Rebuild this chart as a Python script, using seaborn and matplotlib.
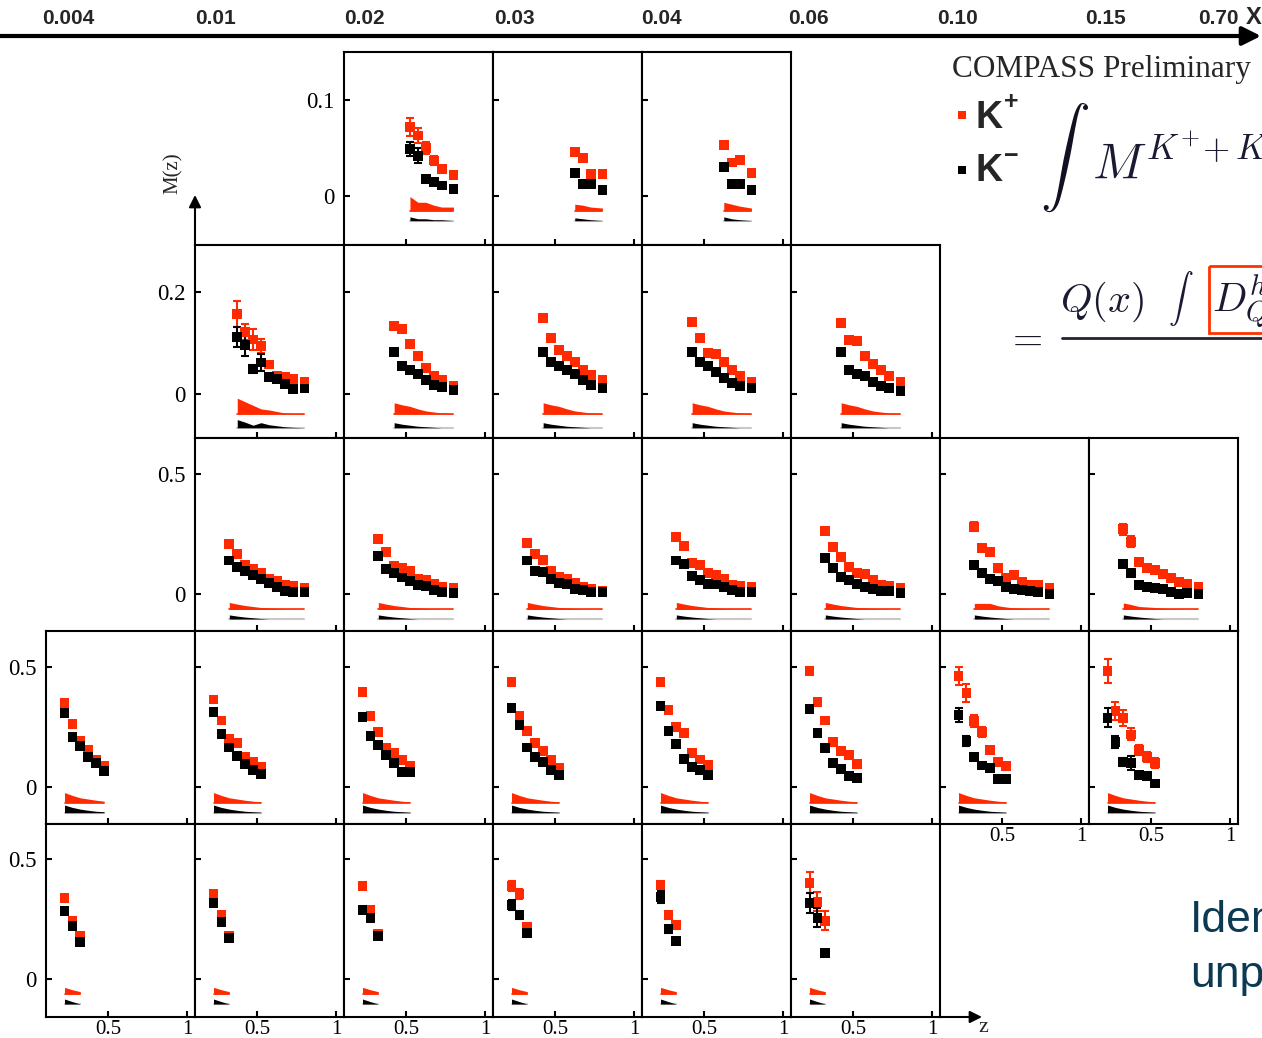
import numpy as np
import pandas as pd
import matplotlib
matplotlib.use("Agg")
import matplotlib.pyplot as plt
import seaborn as sns
from matplotlib.patches import Rectangle

sns.set_theme(style="white")
plt.rcParams['font.family'] = ['Liberation Serif', 'DejaVu Serif']
plt.rcParams['mathtext.fontset'] = 'cm'

W, H = 1262, 1038
RED = '#ff2a00'
BLACK = '#000000'

# ---------------- data ----------------
x_edges = ['0.004', '0.01', '0.02', '0.03', '0.04', '0.06', '0.10', '0.15', '0.70']

Z6A = [0.525, 0.575, 0.625, 0.675, 0.725, 0.80]
Z4 = [0.625, 0.675, 0.725, 0.80]
Z9 = [0.375, 0.425, 0.475, 0.525, 0.575, 0.625, 0.675, 0.725, 0.80]
Z8 = [0.425, 0.475, 0.525, 0.575, 0.625, 0.675, 0.725, 0.80]
Z10 = [0.325, 0.375, 0.425, 0.475, 0.525, 0.575, 0.625, 0.675, 0.725, 0.80]
Z6 = [0.225, 0.275, 0.325, 0.375, 0.425, 0.475]
Z7 = [0.225, 0.275, 0.325, 0.375, 0.425, 0.475, 0.525]
Z3 = [0.225, 0.275, 0.325]

# row 0 (columns 2,3,4)
cols_row0 = [2, 3, 4]
z_row0 = [Z6A, Z4, Z4]
kp_row0 = [[0.072, 0.063, 0.050, 0.037, 0.028, 0.022],
           [0.046, 0.040, 0.023, 0.023],
           [0.053, 0.035, 0.0375, 0.024]]
kp_err_row0 = [[0.009, 0.008, 0.006, 0.005, 0.003, 0.002],
               [0.003, 0.003, 0.002, 0.002],
               [0.003, 0.003, 0.002, 0.002]]
km_row0 = [[0.049, 0.042, 0.018, 0.015, 0.011, 0.007],
           [0.024, 0.0125, 0.0125, 0.006],
           [0.030, 0.0125, 0.0125, 0.006]]
km_err_row0 = [[0.007, 0.008, 0.003, 0.002, 0.002, 0.002],
               [0.002, 0.002, 0.002, 0.002],
               [0.002, 0.002, 0.002, 0.002]]
sysp_row0 = [[0.015, 0.009, 0.009, 0.006, 0.004, 0.004],
             [0.007, 0.006, 0.004, 0.003],
             [0.009, 0.007, 0.005, 0.003]]
sysm_row0 = [[0.004, 0.002, 0.002, 0.001, 0.001, 0.0],
             [0.003, 0.002, 0.001, 0.0],
             [0.004, 0.002, 0.001, 0.0]]

# row 1 (columns 1..5)
cols_row1 = [1, 2, 3, 4, 5]
z_row1 = [Z9, Z8, Z8, Z8, Z8]
kp_row1 = [[0.157, 0.121, 0.107, 0.094, 0.058, 0.036, 0.033, 0.029, 0.024],
           [0.133, 0.127, 0.098, 0.0745, 0.051, 0.035, 0.027, 0.016],
           [0.149, 0.110, 0.086, 0.0745, 0.063, 0.047, 0.037, 0.027],
           [0.141, 0.110, 0.080, 0.078, 0.063, 0.047, 0.035, 0.024],
           [0.139, 0.106, 0.104, 0.0745, 0.059, 0.047, 0.035, 0.024]]
kp_err_row1 = [[0.025, 0.016, 0.020, 0.014, 0.006, 0.005, 0.005, 0.004, 0.004],
               [0.006, 0.006, 0.005, 0.004, 0.004, 0.003, 0.003, 0.003],
               [0.008, 0.006, 0.005, 0.004, 0.004, 0.003, 0.003, 0.003],
               [0.006, 0.006, 0.005, 0.004, 0.004, 0.003, 0.003, 0.003],
               [0.006, 0.006, 0.005, 0.004, 0.004, 0.003, 0.003, 0.003]]
km_row1 = [[0.112, 0.096, 0.049, 0.062, 0.033, 0.029, 0.019, 0.010, 0.011],
           [0.082, 0.055, 0.047, 0.039, 0.027, 0.018, 0.014, 0.008],
           [0.082, 0.063, 0.055, 0.047, 0.039, 0.027, 0.018, 0.012],
           [0.082, 0.063, 0.055, 0.043, 0.031, 0.022, 0.016, 0.012],
           [0.082, 0.047, 0.039, 0.035, 0.024, 0.016, 0.012, 0.006]]
km_err_row1 = [[0.020, 0.021, 0.008, 0.017, 0.006, 0.005, 0.004, 0.004, 0.004],
               [0.005, 0.004, 0.004, 0.003, 0.003, 0.003, 0.003, 0.003],
               [0.006, 0.004, 0.004, 0.003, 0.003, 0.003, 0.003, 0.003],
               [0.005, 0.004, 0.004, 0.003, 0.003, 0.003, 0.003, 0.003],
               [0.005, 0.004, 0.004, 0.003, 0.003, 0.003, 0.003, 0.003]]
sysp_row1 = [[0.031, 0.024, 0.017, 0.010, 0.008, 0.005, 0.002, 0.001, 0.001]] + \
            [[0.022, 0.018, 0.015, 0.010, 0.006, 0.004, 0.002, 0.001]] * 4
sysm_row1 = [[0.016, 0.011, 0.005, 0.010, 0.006, 0.004, 0.002, 0.001, 0.0]] + \
            [[0.010, 0.007, 0.005, 0.003, 0.002, 0.001, 0.0, 0.0]] * 4

# row 2 (columns 1..7)
cols_row2 = [1, 2, 3, 4, 5, 6, 7]
z_row2 = [Z10] * 7
kp_row2 = [[0.207, 0.167, 0.121, 0.104, 0.089, 0.061, 0.054, 0.040, 0.033, 0.024],
           [0.230, 0.176, 0.119, 0.107, 0.097, 0.0625, 0.058, 0.042, 0.028, 0.026],
           [0.211, 0.167, 0.142, 0.097, 0.072, 0.064, 0.047, 0.028, 0.020, 0.014],
           [0.239, 0.201, 0.130, 0.121, 0.0875, 0.080, 0.064, 0.036, 0.032, 0.029],
           [0.264, 0.197, 0.153, 0.114, 0.086, 0.083, 0.058, 0.0375, 0.033, 0.024],
           [0.280, 0.193, 0.176, 0.110, 0.069, 0.078, 0.049, 0.040, 0.036, 0.026],
           [0.270, 0.218, 0.132, 0.107, 0.100, 0.083, 0.068, 0.051, 0.044, 0.028]]
kp_err_row2 = [[0.008, 0.007, 0.006, 0.005, 0.005, 0.004, 0.004, 0.004, 0.003, 0.003]] * 5 + \
              [[0.018, 0.012, 0.010, 0.007, 0.006, 0.005, 0.004, 0.004, 0.004, 0.003],
               [0.022, 0.022, 0.010, 0.007, 0.006, 0.005, 0.004, 0.004, 0.004, 0.003]]
km_row2 = [[0.140, 0.114, 0.095, 0.078, 0.0625, 0.046, 0.028, 0.014, 0.008, 0.007],
           [0.158, 0.104, 0.089, 0.069, 0.053, 0.036, 0.032, 0.017, 0.008, 0.006],
           [0.140, 0.096, 0.093, 0.061, 0.045, 0.042, 0.021, 0.017, 0.010, 0.007],
           [0.140, 0.125, 0.075, 0.058, 0.043, 0.040, 0.030, 0.017, 0.010, 0.010],
           [0.149, 0.107, 0.072, 0.058, 0.042, 0.028, 0.020, 0.014, 0.0125, 0.003],
           [0.122, 0.086, 0.0625, 0.053, 0.028, 0.022, 0.017, 0.014, 0.008, 0.0],
           [0.124, 0.086, 0.039, 0.030, 0.025, 0.020, 0.008, 0.0, 0.005, 0.0]]
km_err_row2 = [[0.007, 0.006, 0.005, 0.005, 0.004, 0.004, 0.003, 0.003, 0.003, 0.003]] * 7
sysp_row2 = [[0.029, 0.022, 0.016, 0.012, 0.008, 0.006, 0.004, 0.002, 0.001, 0.001]] * 5 + \
            [[0.025, 0.025, 0.025, 0.015, 0.010, 0.006, 0.004, 0.002, 0.001, 0.001],
             [0.027, 0.020, 0.012, 0.010, 0.008, 0.005, 0.003, 0.002, 0.001, 0.001]]
sysm_row2 = [[0.017, 0.012, 0.008, 0.005, 0.002, 0.0, 0.0, 0.0, 0.0, 0.0]] * 7

# row 3 (columns 0..7)
cols_row3 = [0, 1, 2, 3, 4, 5, 6, 7]
z_row3 = [Z6] + [Z7] * 7
kp_row3 = [[0.351, 0.2625, 0.193, 0.154, 0.115, 0.0875],
           [0.365, 0.277, 0.200, 0.182, 0.124, 0.103, 0.082],
           [0.397, 0.296, 0.229, 0.164, 0.143, 0.1125, 0.089],
           [0.439, 0.296, 0.233, 0.185, 0.150, 0.1125, 0.080],
           [0.439, 0.321, 0.251, 0.224, 0.1405, 0.115, 0.092],
           [0.485, 0.355, 0.2775, 0.189, 0.150, 0.132, 0.096],
           [0.4625, 0.392, 0.275, 0.229, 0.154, 0.104, 0.089],
           [0.483, 0.317, 0.289, 0.219, 0.154, 0.126, 0.099]]
kp_err_row3 = [[0.010, 0.008, 0.007, 0.006, 0.006, 0.005]] + \
              [[0.010, 0.008, 0.007, 0.006, 0.006, 0.005, 0.005]] * 4 + \
              [[0.016, 0.010, 0.008, 0.007, 0.006, 0.006, 0.005],
               [0.038, 0.036, 0.025, 0.022, 0.012, 0.010, 0.010],
               [0.050, 0.038, 0.033, 0.025, 0.020, 0.020, 0.020]]
km_row3 = [[0.307, 0.208, 0.172, 0.126, 0.101, 0.068],
           [0.311, 0.222, 0.165, 0.129, 0.097, 0.071, 0.054],
           [0.293, 0.2125, 0.174, 0.135, 0.101, 0.064, 0.064],
           [0.329, 0.257, 0.165, 0.126, 0.104, 0.071, 0.051],
           [0.339, 0.235, 0.179, 0.117, 0.085, 0.071, 0.050],
           [0.324, 0.224, 0.161, 0.099, 0.075, 0.047, 0.036],
           [0.300, 0.192, 0.125, 0.090, 0.078, 0.032, 0.032],
           [0.289, 0.1875, 0.104, 0.101, 0.049, 0.046, 0.015]]
km_err_row3 = [[0.010, 0.008, 0.007, 0.006, 0.006, 0.005]] + \
              [[0.010, 0.008, 0.007, 0.006, 0.006, 0.005, 0.005]] * 5 + \
              [[0.028, 0.020, 0.010, 0.010, 0.008, 0.006, 0.006],
               [0.040, 0.025, 0.015, 0.030, 0.010, 0.008, 0.008]]
sysp_row3 = [[0.042, 0.030, 0.020, 0.015, 0.010, 0.006]] + \
            [[0.042, 0.030, 0.020, 0.015, 0.010, 0.006, 0.003]] * 7
sysm_row3 = [[0.032, 0.022, 0.015, 0.010, 0.006, 0.004]] + \
            [[0.032, 0.022, 0.015, 0.010, 0.006, 0.004, 0.002]] * 7

# row 4 (columns 0..5)
cols_row4 = [0, 1, 2, 3, 4, 5]
z_row4 = [Z3] * 6
kp_row4 = [[0.3375, 0.242, 0.179], [0.354, 0.267, 0.179], [0.3875, 0.2875, 0.1875],
           [0.3875, 0.354, 0.217], [0.392, 0.267, 0.225], [0.401, 0.322, 0.243]]
kp_err_row4 = [[0.010, 0.010, 0.010]] * 3 + [[0.020, 0.020, 0.015], [0.015, 0.015, 0.015],
                                             [0.043, 0.040, 0.039]]
km_row4 = [[0.283, 0.221, 0.154], [0.317, 0.2375, 0.171], [0.2875, 0.254, 0.179],
           [0.308, 0.267, 0.192], [0.342, 0.208, 0.158], [0.318, 0.255, 0.110]]
km_err_row4 = [[0.010, 0.010, 0.010]] * 3 + [[0.020, 0.015, 0.015], [0.025, 0.015, 0.010],
                                             [0.042, 0.040, 0.010]]
sysp_row4 = [[0.028, 0.018, 0.010]] * 6
sysm_row4 = [[0.021, 0.010, 0.0]] * 6

ROWS = [
    (cols_row0, z_row0, kp_row0, kp_err_row0, km_row0, km_err_row0, sysp_row0, sysm_row0),
    (cols_row1, z_row1, kp_row1, kp_err_row1, km_row1, km_err_row1, sysp_row1, sysm_row1),
    (cols_row2, z_row2, kp_row2, kp_err_row2, km_row2, km_err_row2, sysp_row2, sysm_row2),
    (cols_row3, z_row3, kp_row3, kp_err_row3, km_row3, km_err_row3, sysp_row3, sysm_row3),
    (cols_row4, z_row4, kp_row4, kp_err_row4, km_row4, km_err_row4, sysp_row4, sysm_row4),
]

# ---------------- layout ----------------
col_left = [46 + 149 * c for c in range(8)]
row_top = [52, 245, 438, 631, 824]
PW, PH = 149, 193
row_ylim = [(-0.051, 0.150), (-0.086, 0.292), (-0.154, 0.650), (-0.154, 0.650), (-0.158, 0.646)]
row_yticks = [[0, 0.1], [0, 0.2], [0, 0.5], [0, 0.5], [0, 0.5]]
row_yticklabels = [['0', '0.1'], ['0', '0.2'], ['0', '0.5'], ['0', '0.5'], ['0', '0.5']]
red_base = [-0.0155, -0.039, -0.064, -0.065, -0.0625]
black_base = [-0.0257, -0.066, -0.104, -0.107, -0.104]
XLIM = (0.108, 1.05)
bottom_cols = {4: [0, 1, 2, 3, 4, 5], 3: [6, 7]}

fig = plt.figure(figsize=(W / 100, H / 100), dpi=100)
fig.patch.set_facecolor('white')

for r, (cols, zs, kps, kpes, kms, kmes, sps, sms) in enumerate(ROWS):
    for i, c in enumerate(cols):
        l, t = col_left[c], row_top[r]
        ax = fig.add_axes([l / W, 1 - (t + PH) / H, PW / W, PH / H])
        ax.set_facecolor('white')
        z = np.array(zs[i]); kp = np.array(kps[i]); km = np.array(kms[i])
        # systematic bands
        ax.plot([z[0], z[-1]], [red_base[r], red_base[r]], color=RED, lw=1.2, zorder=1)
        ax.fill_between(z, red_base[r], red_base[r] + np.array(sps[i]), color=RED, lw=0, zorder=1)
        ax.plot([z[0], z[-1]], [black_base[r], black_base[r]], color='#c8c8c8', lw=1.5, zorder=1)
        ax.fill_between(z, black_base[r], black_base[r] + np.array(sms[i]), color=BLACK, lw=0, zorder=1)
        # error bars
        ax.errorbar(z, kp, yerr=kpes[i], fmt='none', ecolor=RED, elinewidth=1.5, capsize=3, capthick=1.5, zorder=2)
        ax.errorbar(z, km, yerr=kmes[i], fmt='none', ecolor=BLACK, elinewidth=1.5, capsize=3, capthick=1.5, zorder=2)
        df = pd.DataFrame({'z': np.concatenate([z, z]), 'M': np.concatenate([kp, km]),
                           'hadron': ['K+'] * len(z) + ['K-'] * len(z)})
        sns.scatterplot(data=df, x='z', y='M', hue='hadron', palette={'K+': RED, 'K-': BLACK},
                        marker='s', s=50, edgecolor='none', linewidth=0, legend=False, ax=ax, zorder=3)
        ax.set_xlim(*XLIM)
        ax.set_ylim(*row_ylim[r])
        ax.set_xlabel(''); ax.set_ylabel('')
        ax.set_xticks([0.5, 1.0])
        ax.set_yticks(row_yticks[r])
        if c == cols[0]:
            ax.set_yticklabels(row_yticklabels[r])
        else:
            ax.set_yticklabels([])
        if c in bottom_cols.get(r, []):
            ax.set_xticklabels(['0.5', '1'])
        else:
            ax.set_xticklabels([])
        ax.tick_params(direction='in', length=4, width=1.5, colors='black', left=True, bottom=True)
        ax.tick_params(axis='y', pad=7, labelsize=16.5)
        ax.tick_params(axis='x', pad=2, labelsize=15)
        for sp in ax.spines.values():
            sp.set_visible(True)
            sp.set_color('black')
            sp.set_linewidth(1.5)
        ax.grid(False)

# ---------------- decorations (pixel coordinates) ----------------
ov = fig.add_axes([0, 0, 1, 1], zorder=10)
ov.set_xlim(0, W); ov.set_ylim(H, 0); ov.axis('off'); ov.patch.set_alpha(0)

# top x-axis arrow
ov.annotate('', xy=(1261, 36), xytext=(0, 36),
            arrowprops=dict(arrowstyle='-|>', lw=3, color='black', mutation_scale=28, shrinkA=0, shrinkB=0))
xlab_pos = [68, 215, 364, 514, 661, 808, 958, 1106, 1218]
for xp, lab in zip(xlab_pos, x_edges):
    ov.text(xp, 18, lab, ha='center', va='center', fontsize=15, fontweight='bold', family='Liberation Sans')
ov.text(1246, 18, 'X', ha='left', va='center', fontsize=17, fontweight='bold', family='Liberation Sans')

# M(z) vertical arrow
ov.annotate('', xy=(195, 195), xytext=(195, 246),
            arrowprops=dict(arrowstyle='-|>', lw=1.5, color='black', mutation_scale=18, shrinkA=0, shrinkB=0))
ov.text(173, 173, 'M(z)', rotation=90, ha='center', va='center', fontsize=15)

# z arrow
ov.annotate('', xy=(982, 1017), xytext=(939, 1017),
            arrowprops=dict(arrowstyle='-|>', lw=1.5, color='black', mutation_scale=18, shrinkA=0, shrinkB=0))
ov.text(983, 1027, 'z', ha='center', va='center', fontsize=16)

# COMPASS label and legend
ov.text(952, 70, 'COMPASS Preliminary', ha='left', va='center', fontsize=22.5)
ov.add_patch(Rectangle((958, 111), 8, 8, color=RED, lw=0))
ov.add_patch(Rectangle((958, 166), 8, 8, color=BLACK, lw=0))
ov.text(976, 118, 'K', ha='left', va='center', fontsize=27, fontweight='bold', family='Liberation Sans')
ov.text(1004, 102, '+', ha='left', va='center', fontsize=18, fontweight='bold', family='Liberation Sans')
ov.text(976, 171, 'K', ha='left', va='center', fontsize=27, fontweight='bold', family='Liberation Sans')
ov.text(1004, 156, '\u2212', ha='left', va='center', fontsize=18, fontweight='bold', family='Liberation Sans')

# formula fragments (cropped at the right edge)
ov.text(1040, 158, r'$\int$', ha='left', va='center', fontsize=36, color='#111122')
ov.text(1092, 178, r'$M^{K^{+}\!+K^{-}}$', ha='left', va='baseline', fontsize=36, color='#1a1a33')
ov.text(1006, 340, r'$=$', ha='left', va='center', fontsize=28, color='#111122')
ov.text(1060, 312, r'$Q(x)$', ha='left', va='baseline', fontsize=29, color='#1a1a33')
ov.text(1168, 298, r'$\int$', ha='left', va='center', fontsize=18, color='#1a1a33')
ov.text(1212, 312, r'$D^{h}_{Q}$', ha='left', va='baseline', fontsize=29, color='#1a1a33')
ov.plot([1062, 1262], [338, 338], color='#222233', lw=2)
ov.add_patch(Rectangle((1209, 266), 60, 67, fill=False, ec='#ff3300', lw=2))

# slide text fragments
ov.text(1190, 920, 'Iden', ha='left', va='center', fontsize=32, color='#0b3a52', family='Liberation Sans')
ov.text(1190, 976, 'unp', ha='left', va='center', fontsize=32, color='#0b3a52', family='Liberation Sans')

fig.savefig('out.png', dpi=100, facecolor='white')
